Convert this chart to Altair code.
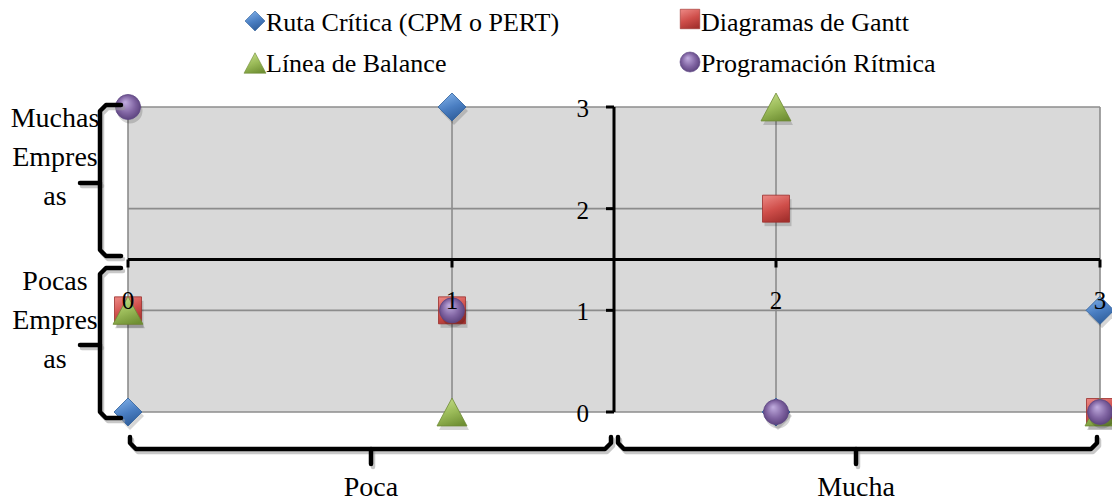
import altair as alt
import pandas as pd

# ---- data -------------------------------------------------------------
series = [
    "Ruta Crítica (CPM o PERT)",
    "Diagramas de Gantt",
    "Línea de Balance",
    "Programación Rítmica",
]
x_vals = [0, 1, 2, 3]
ruta_y = [0, 3, 0, 1]
gantt_y = [1, 1, 2, 0]
linea_y = [1, 0, 3, 0]
ritmica_y = [3, 1, 0, 0]

x_ticks = [0, 1, 2, 3]
y_ticks = [0, 1, 2, 3]
x_tick_labels = ["0", "1", "2", "3"]
y_tick_labels = ["0", "1", "2", "3"]

row_groups = ["Muchas\nEmpres\nas", "Pocas\nEmpres\nas"]
col_groups = ["Poca", "Mucha"]

# ---- layout -----------------------------------------------------------
LEFT, TOP = 128, 107          # plot origin inside the page
W, H = 972, 305               # plot area
CROSS = 1.5                   # where the two axes cross
FONT = "Liberation Serif"

xs = alt.Scale(domain=[0, 3], nice=False, zero=False)
ys = alt.Scale(domain=[0, 3], nice=False, zero=False)

one = pd.DataFrame({"k": [0]})

points = pd.DataFrame(
    {
        "serie": sum([[s] * len(x_vals) for s in series], []),
        "x": x_vals * 4,
        "y": ruta_y + gantt_y + linea_y + ritmica_y,
    }
)


def grad(light, mid, dark):
    return alt.Gradient(
        gradient="linear",
        x1=0.3, y1=0, x2=0.7, y2=1,
        stops=[
            alt.GradientStop(color=light, offset=0),
            alt.GradientStop(color=mid, offset=0.5),
            alt.GradientStop(color=dark, offset=1),
        ],
    )


def sphere(light, mid, dark):
    return alt.Gradient(
        gradient="radial",
        x1=0.38, y1=0.3, r1=0.0,
        x2=0.5, y2=0.5, r2=0.62,
        stops=[
            alt.GradientStop(color=light, offset=0),
            alt.GradientStop(color=mid, offset=0.55),
            alt.GradientStop(color=dark, offset=1),
        ],
    )


TRI = "M0,-0.93L1,0.93L-1,0.93Z"
styles = {
    series[0]: dict(shape="diamond", size=784, fill=grad("#7eaee6", "#4a7ec2", "#2c5a96"), stroke="#2f5f9a"),
    series[1]: dict(shape="square", size=729, fill=grad("#e8807c", "#cf4e4a", "#a3302d"), stroke="#9a2f2c"),
    series[2]: dict(shape=TRI, size=900, fill=grad("#c3dc86", "#9bbb59", "#6f8f33"), stroke="#6f8a36"),
    series[3]: dict(shape="circle", size=625, fill=sphere("#c2aee0", "#8064a2", "#4e3770"), stroke="#5d4583"),
}

# ---- grid ---------------------------------------------------------------
grid_v = alt.Chart(pd.DataFrame({"v": x_ticks})).mark_rule(color="#8c8c8c", strokeWidth=1.6).encode(
    x=alt.X("v:Q", scale=xs), y=alt.datum(0), y2=alt.datum(3)
)
grid_h = alt.Chart(pd.DataFrame({"v": y_ticks})).mark_rule(color="#8c8c8c", strokeWidth=1.6).encode(
    y=alt.Y("v:Q", scale=ys), x=alt.datum(0), x2=alt.datum(3)
)

# ---- crossing axes -----------------------------------------------------------
x_axis = alt.Chart(one).mark_rule(color="black", strokeWidth=3).encode(
    x=alt.datum(0), x2=alt.datum(3), y=alt.datum(CROSS)
)
y_axis = alt.Chart(one).mark_rule(color="black", strokeWidth=3).encode(
    y=alt.datum(0), y2=alt.datum(3), x=alt.datum(CROSS)
)
x_tick_marks = alt.Chart(pd.DataFrame({"v": x_ticks})).mark_rule(
    color="black", strokeWidth=3, y2Offset=8
).encode(x=alt.X("v:Q", scale=xs), y=alt.datum(CROSS), y2=alt.datum(CROSS))
y_tick_marks = alt.Chart(pd.DataFrame({"v": y_ticks})).mark_rule(
    color="black", strokeWidth=3, x2Offset=-8
).encode(y=alt.Y("v:Q", scale=ys), x=alt.datum(CROSS), x2=alt.datum(CROSS))

x_labels = alt.Chart(pd.DataFrame({"v": x_ticks, "t": x_tick_labels})).mark_text(
    font=FONT, fontSize=25, color="black", align="center", baseline="middle"
).encode(x=alt.X("v:Q", scale=xs), y=alt.value(301 - TOP), text="t:N")
y_labels = alt.Chart(pd.DataFrame({"v": y_ticks, "t": y_tick_labels})).mark_text(
    font=FONT, fontSize=25, color="black", align="right", baseline="middle", dx=-25, dy=2
).encode(y=alt.Y("v:Q", scale=ys), x=alt.datum(CROSS), text="t:N")

# ---- markers -----------------------------------------------------------------
marker_layers = []
for s in series:
    st = styles[s]
    sub = points[points["serie"] == s]
    shadow = alt.Chart(sub).mark_point(
        shape=st["shape"], size=st["size"], filled=True, fill="#000000",
        opacity=0.16, strokeWidth=0, xOffset=2, yOffset=4,
    ).encode(x=alt.X("x:Q", scale=xs), y=alt.Y("y:Q", scale=ys))
    mark = alt.Chart(sub).mark_point(
        shape=st["shape"], size=st["size"], filled=True, fill=st["fill"],
        stroke=st["stroke"], strokeWidth=0.8, opacity=1,
    ).encode(x=alt.X("x:Q", scale=xs), y=alt.Y("y:Q", scale=ys))
    marker_layers += [shadow, mark]

# ---- legend ------------------------------------------------------------------
legend_pos = {
    series[0]: (255, 21, 400),
    series[1]: (690, 19, 380),
    series[2]: (255, 63, 484),
    series[3]: (690, 62, 400),
}
legend_layers = []
for s in series:
    st = styles[s]
    cx, cy, sz = legend_pos[s]
    legend_layers.append(
        alt.Chart(one).mark_point(
            shape=st["shape"], size=sz, filled=True, fill=st["fill"],
            stroke=st["stroke"], strokeWidth=0.6, opacity=1,
        ).encode(x=alt.value(cx - LEFT), y=alt.value(cy - TOP))
    )
    base = 31 if cy < 40 else 72
    legend_layers.append(
        alt.Chart(one).mark_text(
            font=FONT, fontSize=26, color="black", align="left", baseline="alphabetic"
        ).encode(x=alt.value(cx + 11 - LEFT), y=alt.value(base - TOP), text=alt.value(s))
    )

# ---- braces around the quadrants ---------------------------------------------------
def left_brace(bid, xl, xe, xt, y0, y1, ym, r=6):
    main = [(xe, y0), (xl + r, y0), (xl, y0 + r), (xl, y1 - r), (xl + r, y1), (xe, y1)]
    stub = [(xl, ym), (xt, ym)]
    return [(f"{bid}a", i, px, py) for i, (px, py) in enumerate(main)] + \
           [(f"{bid}b", i, px, py) for i, (px, py) in enumerate(stub)]


def bottom_brace(bid, x0, x1, yl, ye, yt, xm, r=6):
    main = [(x0, ye), (x0, yl - r), (x0 + r, yl), (x1 - r, yl), (x1, yl - r), (x1, ye)]
    stub = [(xm, yl), (xm, yt)]
    return [(f"{bid}a", i, px, py) for i, (px, py) in enumerate(main)] + \
           [(f"{bid}b", i, px, py) for i, (px, py) in enumerate(stub)]


rows = (
    left_brace("A", 100, 121, 80, 105, 256, 183)
    + left_brace("B", 100, 121, 80, 268, 418, 345)
    + bottom_brace("C", 130, 611, 449, 437, 464, 371)
    + bottom_brace("D", 618, 1097, 449, 437, 464, 856)
)
braces = pd.DataFrame(rows, columns=["id", "o", "px", "py"])
braces["px"] = braces["px"] - LEFT
braces["py"] = braces["py"] - TOP

brace_shadow = alt.Chart(braces).mark_line(
    color="#9a9a9a", strokeWidth=4.5, opacity=0.55, strokeJoin="round", strokeCap="round",
    xOffset=2, yOffset=3,
).encode(
    x=alt.X("px:Q", scale=None), y=alt.Y("py:Q", scale=None), detail="id:N", order="o:Q"
)
brace_line = alt.Chart(braces).mark_line(
    color="black", strokeWidth=4.5, strokeJoin="round", strokeCap="round"
).encode(
    x=alt.X("px:Q", scale=None), y=alt.Y("py:Q", scale=None), detail="id:N", order="o:Q"
)

row_text = []
for label, base in zip(row_groups, [127, 290]):
    row_text.append(
        alt.Chart(one).mark_text(
            font=FONT, fontSize=28, lineHeight=39, lineBreak="\n", color="black",
            align="center", baseline="alphabetic",
        ).encode(x=alt.value(55 - LEFT), y=alt.value(base - TOP), text=alt.value(label))
    )
col_text = []
for label, cx in zip(col_groups, [371, 856]):
    col_text.append(
        alt.Chart(one).mark_text(
            font=FONT, fontSize=28, color="black", align="center", baseline="middle",
        ).encode(x=alt.value(cx - LEFT), y=alt.value(488 - TOP), text=alt.value(label))
    )

chart = alt.layer(
    grid_v, grid_h, x_axis, y_axis, x_tick_marks, y_tick_marks,
    *marker_layers, x_labels, y_labels,
    brace_shadow, brace_line, *row_text, *col_text, *legend_layers,
).properties(
    width=W, height=H,
    padding={"left": LEFT, "top": TOP, "right": 1112 - LEFT - W, "bottom": 501 - TOP - H},
    autosize=alt.AutoSizeParams(type="none"),
    background="white",
).configure_view(
    fill="#d9d9d9", stroke=None
).configure_axis(disable=True)

chart.save("out.html", embed_options={"renderer": "svg", "actions": False})
